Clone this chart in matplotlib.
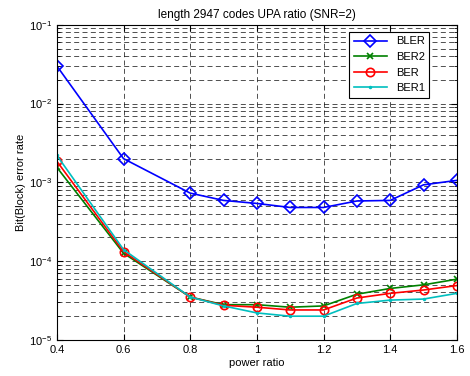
import matplotlib
matplotlib.use('Agg')
import matplotlib.pyplot as plt
from matplotlib.ticker import LogLocator, NullFormatter

plt.rcParams['font.family'] = ['Liberation Sans', 'DejaVu Sans']

power_ratio = [0.4, 0.6, 0.8, 0.9, 1.0, 1.1, 1.2, 1.3, 1.4, 1.5, 1.6]
bler = [3.0e-2, 2.0e-3, 7.3e-4, 5.9e-4, 5.4e-4, 4.8e-4, 4.8e-4, 5.8e-4, 5.9e-4, 9.3e-4, 1.06e-3]
ber2 = [1.55e-3, 1.26e-4, 3.5e-5, 2.8e-5, 2.8e-5, 2.6e-5, 2.7e-5, 3.8e-5, 4.5e-5, 5.0e-5, 5.9e-5]
ber = [1.85e-3, 1.32e-4, 3.5e-5, 2.75e-5, 2.6e-5, 2.4e-5, 2.4e-5, 3.4e-5, 3.9e-5, 4.3e-5, 4.9e-5]
ber1 = [2.2e-3, 1.4e-4, 3.5e-5, 2.7e-5, 2.2e-5, 2.0e-5, 2.0e-5, 2.9e-5, 3.2e-5, 3.3e-5, 3.9e-5]
xticks = [0.4, 0.6, 0.8, 1.0, 1.2, 1.4, 1.6]
xticklabels = ['0.4', '0.6', '0.8', '1', '1.2', '1.4', '1.6']

fig = plt.figure(figsize=(4.7, 3.76), dpi=100)
ax = fig.add_axes([0.121, 0.096, 0.851, 0.838])

ax.semilogy(power_ratio, bler, color='b', marker='D', mfc='none', ms=6, mew=1.2, lw=1.2, label='BLER')
ax.semilogy(power_ratio, ber2, color=(0, 0.5, 0), marker='x', ms=4, mew=1.2, lw=1.2, label='BER2')
ax.semilogy(power_ratio, ber, color='r', marker='o', mfc='none', ms=6, mew=1.2, lw=1.2, label='BER')
ax.semilogy(power_ratio, ber1, color=(0, 0.75, 0.75), marker='.', ms=3, lw=1.2, label='BER1')

ax.set_xlim(0.4, 1.6)
ax.set_ylim(1e-5, 1e-1)
ax.set_xticks(xticks)
ax.set_xticklabels(xticklabels)
ax.yaxis.set_major_locator(LogLocator(base=10, numticks=10))
ax.yaxis.set_minor_locator(LogLocator(base=10, subs=range(2, 10), numticks=10))
ax.yaxis.set_minor_formatter(NullFormatter())

ax.grid(True, which='major', color='k', ls=(0, (6, 4)), lw=0.6, alpha=0.8)
ax.grid(True, which='minor', axis='y', color='k', ls=(0, (6, 4)), lw=0.6, alpha=0.8)

ax.tick_params(which='both', direction='in', top=True, right=True, labelsize=8)
ax.tick_params(which='major', length=4)
ax.tick_params(which='minor', length=2)
for s in ax.spines.values():
    s.set_linewidth(0.8)

ax.set_title('length 2947 codes UPA ratio (SNR=2)', fontsize=8.5, pad=5)
ax.set_xlabel('power ratio', fontsize=8, labelpad=2)
ax.set_ylabel('Bit(Block) error rate', fontsize=8, labelpad=2)

leg = ax.legend(loc='upper right', bbox_to_anchor=(0.945, 0.995), fontsize=8,
                fancybox=False, framealpha=1, edgecolor='k', handlelength=3,
                borderpad=0.4, labelspacing=0.5)
leg.get_frame().set_linewidth(0.8)

fig.savefig('out.png', dpi=100)
